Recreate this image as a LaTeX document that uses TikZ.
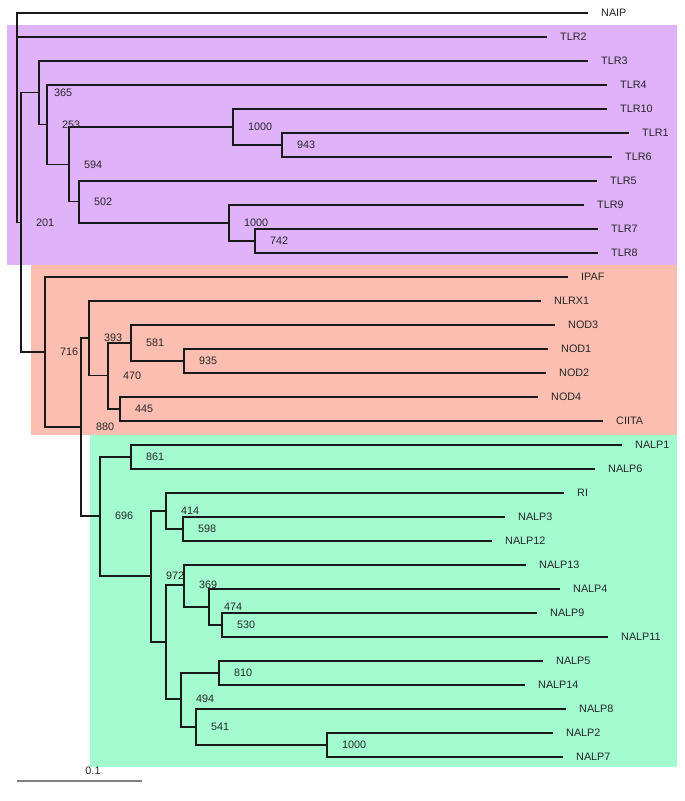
\documentclass[tikz,border=0pt]{standalone}
\usepackage{fontspec}
\setmainfont{Liberation Sans}
\definecolor{tlrbg}{RGB}{223,178,250}
\definecolor{nodbg}{RGB}{252,190,176}
\definecolor{nalpbg}{RGB}{163,252,208}
\tikzset{
  branch/.style={line width=1.8pt, black!90},
  leaf/.style={anchor=west, inner sep=0pt, xshift=13pt, font=\fontsize{10.8}{13}\selectfont, text=black!85},
  boot/.style={anchor=west, inner sep=0pt, xshift=15pt, font=\fontsize{10.8}{13}\selectfont, text=black!85}
}
\begin{document}
\begin{tikzpicture}[x=1pt, y=-1pt]
  \useasboundingbox (0,0) rectangle (685,801);

  % coloured groups
  \fill[tlrbg] (7,25) rectangle (677,265);
  \fill[nodbg] (31,265) rectangle (677,435);
  \fill[nalpbg] (90,435) rectangle (677,767);

  % inner nodes
  \coordinate (root) at (17,117.5);
  \coordinate (nA) at (21,222.5);
  \coordinate (nB) at (39,92.5);
  \coordinate (nC) at (47,124.5);
  \coordinate (nD) at (69,164.5);
  \coordinate (nE) at (233,127);
  \coordinate (nF) at (282,145);
  \coordinate (nG) at (79,201.5);
  \coordinate (nH) at (229,223);
  \coordinate (nI) at (255,241);
  \coordinate (nJ) at (45,352);
  \coordinate (nK) at (81,427);
  \coordinate (nL) at (89,338);
  \coordinate (nM) at (108,375.5);
  \coordinate (nN) at (131,343);
  \coordinate (nO) at (184,361);
  \coordinate (nP) at (120,409);
  \coordinate (nQ) at (100,516);
  \coordinate (nR) at (131,457);
  \coordinate (nS) at (151,576);
  \coordinate (nT) at (166,511);
  \coordinate (nU) at (183,529);
  \coordinate (nV) at (166,642);
  \coordinate (nW) at (184,585);
  \coordinate (nX) at (209,607);
  \coordinate (nY) at (222,625);
  \coordinate (nZ) at (181,699);
  \coordinate (nAA) at (219,673);
  \coordinate (nAB) at (196,727);
  \coordinate (nAC) at (327,745);

  % leaves
  \path (588,13) coordinate (tNAIP) node[leaf] (NAIP) {NAIP};
  \path (547,37) coordinate (tTLR2) node[leaf] (TLR2) {TLR2};
  \path (588,61) coordinate (tTLR3) node[leaf] (TLR3) {TLR3};
  \path (607,85) coordinate (tTLR4) node[leaf] (TLR4) {TLR4};
  \path (607,109) coordinate (tTLR10) node[leaf] (TLR10) {TLR10};
  \path (629,133) coordinate (tTLR1) node[leaf] (TLR1) {TLR1};
  \path (612,157) coordinate (tTLR6) node[leaf] (TLR6) {TLR6};
  \path (597,181) coordinate (tTLR5) node[leaf] (TLR5) {TLR5};
  \path (584,205) coordinate (tTLR9) node[leaf] (TLR9) {TLR9};
  \path (598,229) coordinate (tTLR7) node[leaf] (TLR7) {TLR7};
  \path (598,253) coordinate (tTLR8) node[leaf] (TLR8) {TLR8};
  \path (568,277) coordinate (tIPAF) node[leaf] (IPAF) {IPAF};
  \path (541,301) coordinate (tNLRX1) node[leaf] (NLRX1) {NLRX1};
  \path (555,325) coordinate (tNOD3) node[leaf] (NOD3) {NOD3};
  \path (548,349) coordinate (tNOD1) node[leaf] (NOD1) {NOD1};
  \path (546,373) coordinate (tNOD2) node[leaf] (NOD2) {NOD2};
  \path (538,397) coordinate (tNOD4) node[leaf] (NOD4) {NOD4};
  \path (603,421) coordinate (tCIITA) node[leaf] (CIITA) {CIITA};
  \path (622,445) coordinate (tNALP1) node[leaf] (NALP1) {NALP1};
  \path (595,469) coordinate (tNALP6) node[leaf] (NALP6) {NALP6};
  \path (564,493) coordinate (tRI) node[leaf] (RI) {RI};
  \path (505,517) coordinate (tNALP3) node[leaf] (NALP3) {NALP3};
  \path (492,541) coordinate (tNALP12) node[leaf] (NALP12) {NALP12};
  \path (526,565) coordinate (tNALP13) node[leaf] (NALP13) {NALP13};
  \path (560,589) coordinate (tNALP4) node[leaf] (NALP4) {NALP4};
  \path (537,613) coordinate (tNALP9) node[leaf] (NALP9) {NALP9};
  \path (608,637) coordinate (tNALP11) node[leaf] (NALP11) {NALP11};
  \path (543,661) coordinate (tNALP5) node[leaf] (NALP5) {NALP5};
  \path (525,685) coordinate (tNALP14) node[leaf] (NALP14) {NALP14};
  \path (566,709) coordinate (tNALP8) node[leaf] (NALP8) {NALP8};
  \path (553,733) coordinate (tNALP2) node[leaf] (NALP2) {NALP2};
  \path (563,757) coordinate (tNALP7) node[leaf] (NALP7) {NALP7};

  % branches
  \draw[branch] (root) |- (tNAIP) (root) |- (tTLR2) (root) |- (nA);
  \draw[branch] (nA) |- (nB) (nA) |- (nJ);
  \draw[branch] (nB) |- (tTLR3) (nB) |- (nC);
  \draw[branch] (nC) |- (tTLR4) (nC) |- (nD);
  \draw[branch] (nD) |- (nE) (nD) |- (nG);
  \draw[branch] (nE) |- (tTLR10) (nE) |- (nF);
  \draw[branch] (nF) |- (tTLR1) (nF) |- (tTLR6);
  \draw[branch] (nG) |- (tTLR5) (nG) |- (nH);
  \draw[branch] (nH) |- (tTLR9) (nH) |- (nI);
  \draw[branch] (nI) |- (tTLR7) (nI) |- (tTLR8);
  \draw[branch] (nJ) |- (tIPAF) (nJ) |- (nK);
  \draw[branch] (nK) |- (nL) (nK) |- (nQ);
  \draw[branch] (nL) |- (tNLRX1) (nL) |- (nM);
  \draw[branch] (nM) |- (nN) (nM) |- (nP);
  \draw[branch] (nN) |- (tNOD3) (nN) |- (nO);
  \draw[branch] (nO) |- (tNOD1) (nO) |- (tNOD2);
  \draw[branch] (nP) |- (tNOD4) (nP) |- (tCIITA);
  \draw[branch] (nQ) |- (nR) (nQ) |- (nS);
  \draw[branch] (nR) |- (tNALP1) (nR) |- (tNALP6);
  \draw[branch] (nS) |- (nT) (nS) |- (nV);
  \draw[branch] (nT) |- (tRI) (nT) |- (nU);
  \draw[branch] (nU) |- (tNALP3) (nU) |- (tNALP12);
  \draw[branch] (nV) |- (nW) (nV) |- (nZ);
  \draw[branch] (nW) |- (tNALP13) (nW) |- (nX);
  \draw[branch] (nX) |- (tNALP4) (nX) |- (nY);
  \draw[branch] (nY) |- (tNALP9) (nY) |- (tNALP11);
  \draw[branch] (nZ) |- (nAA) (nZ) |- (nAB);
  \draw[branch] (nAA) |- (tNALP5) (nAA) |- (tNALP14);
  \draw[branch] (nAB) |- (tNALP8) (nAB) |- (nAC);
  \draw[branch] (nAC) |- (tNALP2) (nAC) |- (tNALP7);

  % bootstrap values
  \node[boot] (bA) at (nA) {201};
  \node[boot] (bB) at (nB) {365};
  \node[boot] (bC) at (nC) {253};
  \node[boot] (bD) at (nD) {594};
  \node[boot] (bE) at (nE) {1000};
  \node[boot] (bF) at (nF) {943};
  \node[boot] (bG) at (nG) {502};
  \node[boot] (bH) at (nH) {1000};
  \node[boot] (bI) at (nI) {742};
  \node[boot] (bJ) at (nJ) {716};
  \node[boot] (bK) at (nK) {880};
  \node[boot] (bL) at (nL) {393};
  \node[boot] (bM) at (nM) {470};
  \node[boot] (bN) at (nN) {581};
  \node[boot] (bO) at (nO) {935};
  \node[boot] (bP) at (nP) {445};
  \node[boot] (bQ) at (nQ) {696};
  \node[boot] (bR) at (nR) {861};
  \node[boot] (bS) at (nS) {972};
  \node[boot] (bT) at (nT) {414};
  \node[boot] (bU) at (nU) {598};
  \node[boot] (bW) at (nW) {369};
  \node[boot] (bX) at (nX) {474};
  \node[boot] (bY) at (nY) {530};
  \node[boot] (bZ) at (nZ) {494};
  \node[boot] (bAA) at (nAA) {810};
  \node[boot] (bAB) at (nAB) {541};
  \node[boot] (bAC) at (nAC) {1000};

  % scale bar
  \coordinate (s0) at (17,781);
  \coordinate (s1) at (142,781);
  \draw[line width=1.4pt, gray] (s0) -- (s1);
  \node[boot, anchor=center, xshift=0pt] (sLab) at (78,771) {0.1};

\end{tikzpicture}
\end{document}
